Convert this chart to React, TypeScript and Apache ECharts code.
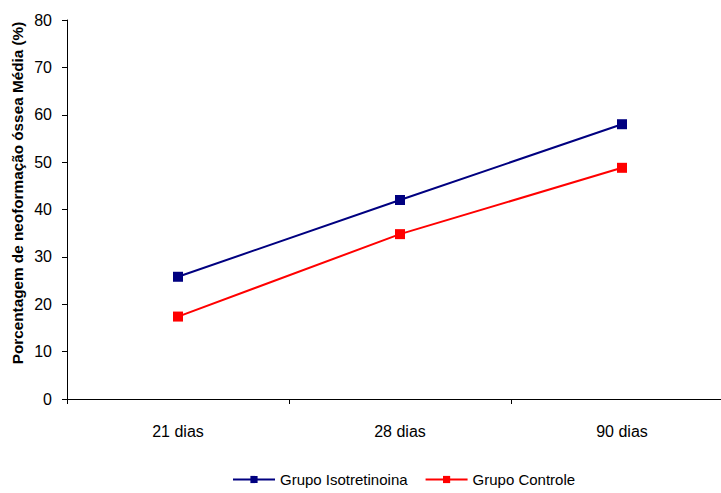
import React, { useEffect, useRef } from "react";
import * as echarts from "echarts";

const categories = ["21 dias", "28 dias", "90 dias"];
const isotretinoina = [25.8, 42.0, 58.0];
const controle = [17.4, 34.8, 48.8];
const seriesNames = ["Grupo Isotretinoina", "Grupo Controle"];
const yTitle = "Porcentagem de neoformação óssea Média (%)";

export default function App() {
  const ref = useRef<HTMLDivElement>(null);
  useEffect(() => {
    if (!ref.current) return;
    const chart = echarts.init(ref.current, undefined, { renderer: "svg" });
    const font = "Liberation Sans, Arial, sans-serif";
    chart.setOption({
      animation: false,
      backgroundColor: "#ffffff",
      textStyle: { fontFamily: font },
      grid: {
        left: 67,
        width: 666,
        top: 20,
        bottom: 94,
        containLabel: false,
        outerBoundsMode: "none",
      },
      legend: {
        left: 232,
        top: 472,
        padding: 0,
        itemWidth: 42,
        itemHeight: 9,
        itemGap: 17,
        textStyle: { fontSize: 15, color: "#000", fontFamily: font },
        data: seriesNames,
      },
      xAxis: {
        type: "category",
        data: categories,
        boundaryGap: true,
        axisLine: { lineStyle: { color: "#000", width: 1 } },
        axisTick: { show: true, length: 5, lineStyle: { color: "#000" } },
        axisLabel: { fontSize: 16, color: "#000", margin: 24, fontFamily: font },
        splitLine: { show: false },
      },
      yAxis: {
        type: "value",
        min: 0,
        max: 80,
        interval: 10,
        axisLine: { show: true, lineStyle: { color: "#000", width: 1 } },
        axisTick: { show: true, length: 5, lineStyle: { color: "#000" } },
        axisLabel: { fontSize: 16, color: "#000", margin: 15, fontFamily: font },
        splitLine: { show: false },
      },
      graphic: [
        {
          type: "text",
          x: 17,
          y: 193,
          rotation: Math.PI / 2,
          style: {
            text: yTitle,
            fontSize: 15.3,
            fontWeight: "bold",
            fontFamily: font,
            fill: "#000",
            align: "center",
            verticalAlign: "middle",
          },
        },
      ],
      series: [
        {
          name: seriesNames[0],
          type: "line",
          data: isotretinoina,
          symbol: "rect",
          symbolSize: 10,
          itemStyle: { color: "#000080" },
          lineStyle: { color: "#000080", width: 2 },
        },
        {
          name: seriesNames[1],
          type: "line",
          data: controle,
          symbol: "rect",
          symbolSize: 10,
          itemStyle: { color: "#ff0000" },
          lineStyle: { color: "#ff0000", width: 2 },
        },
      ],
    });
    return () => chart.dispose();
  }, []);
  return (
    <div
      ref={ref}
      style={{ position: "fixed", left: 0, top: 0, width: 721, height: 493 }}
    />
  );
}
